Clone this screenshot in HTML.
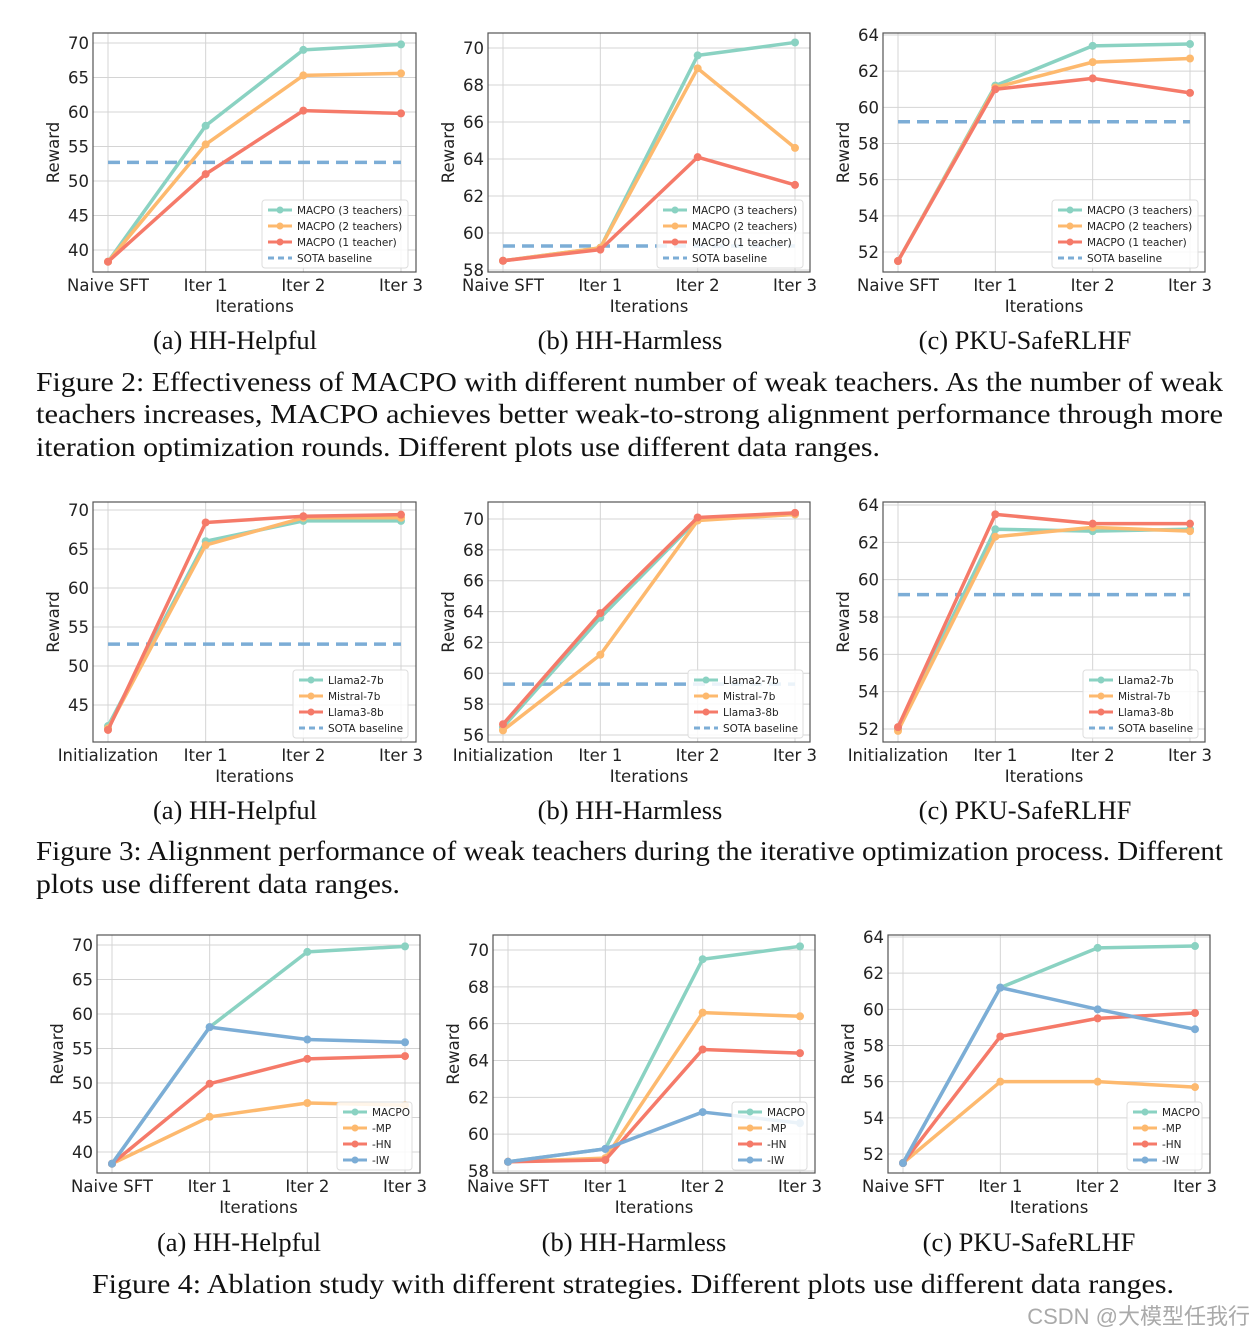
<!DOCTYPE html>
<html><head><meta charset="utf-8"><style>
html,body{margin:0;padding:0;background:#fff;}
svg{display:block;}
.tk{font-family:"DejaVu Sans",sans-serif;font-size:16.5px;fill:#222;}
.lg{font-family:"DejaVu Sans",sans-serif;font-size:10.5px;fill:#222;}
.cap{font-family:"Liberation Serif",serif;font-size:26.5px;fill:#111;}
.fc{font-family:"Liberation Serif",serif;font-size:27px;fill:#111;}
</style></head><body>
<svg id="root" width="1254" height="1338" viewBox="0 0 1254 1338" xmlns="http://www.w3.org/2000/svg">
<g id="charts"></g>
<g>
<text class="cap" x="235" y="349" text-anchor="middle">(a)  HH-Helpful</text>
<text class="cap" x="630" y="349" text-anchor="middle">(b)  HH-Harmless</text>
<text class="cap" x="1025" y="349" text-anchor="middle">(c)  PKU-SafeRLHF</text>
<text class="fc" x="36" y="391" textLength="1187" lengthAdjust="spacingAndGlyphs">Figure 2: Effectiveness of MACPO with different number of weak teachers. As the number of weak</text>
<text class="fc" x="36" y="423" textLength="1187" lengthAdjust="spacingAndGlyphs">teachers increases, MACPO achieves better weak-to-strong alignment performance through more</text>
<text class="fc" x="36" y="456" textLength="844" lengthAdjust="spacingAndGlyphs">iteration optimization rounds. Different plots use different data ranges.</text>
<text class="cap" x="235" y="819" text-anchor="middle">(a)  HH-Helpful</text>
<text class="cap" x="630" y="819" text-anchor="middle">(b)  HH-Harmless</text>
<text class="cap" x="1025" y="819" text-anchor="middle">(c)  PKU-SafeRLHF</text>
<text class="fc" x="36" y="860" textLength="1187" lengthAdjust="spacingAndGlyphs">Figure 3: Alignment performance of weak teachers during the iterative optimization process. Different</text>
<text class="fc" x="36" y="893" textLength="364" lengthAdjust="spacingAndGlyphs">plots use different data ranges.</text>
<text class="cap" x="239" y="1251" text-anchor="middle">(a)  HH-Helpful</text>
<text class="cap" x="634" y="1251" text-anchor="middle">(b)  HH-Harmless</text>
<text class="cap" x="1029" y="1251" text-anchor="middle">(c)  PKU-SafeRLHF</text>
<text class="fc" x="92" y="1293" textLength="1082" lengthAdjust="spacingAndGlyphs">Figure 4: Ablation study with different strategies. Different plots use different data ranges.</text>
<text x="1250" y="1324" text-anchor="end" style="font-family:'Liberation Sans','Noto Sans CJK SC',sans-serif;font-size:22px;fill:#aaa;">CSDN @大模型任我行</text>
</g>
</svg>
<script>
// ---- data ----
const catsA = ["Naive SFT","Iter 1","Iter 2","Iter 3"];
const catsB = ["Initialization","Iter 1","Iter 2","Iter 3"];
const names2 = ["MACPO (3 teachers)","MACPO (2 teachers)","MACPO (1 teacher)"];
const names3 = ["Llama2-7b","Mistral-7b","Llama3-8b"];
const names4 = ["MACPO","-MP","-HN","-IW"];
const f2a = [[38.3,58,69,69.8],[38.3,55.3,65.3,65.6],[38.3,51,60.2,59.8]];
const f2aSota = 52.7;
const f2b = [[58.5,59.2,69.6,70.3],[58.5,59.2,68.9,64.6],[58.5,59.1,64.1,62.6]];
const f2bSota = 59.3;
const f2c = [[51.5,61.2,63.4,63.5],[51.5,61.1,62.5,62.7],[51.5,61.0,61.6,60.8]];
const f2cSota = 59.2;
const f3a = [[42.3,66,68.6,68.6],[42.0,65.5,69,69],[41.8,68.4,69.2,69.4]];
const f3aSota = 52.8;
const f3b = [[56.5,63.6,70,70.3],[56.3,61.2,69.9,70.3],[56.7,63.9,70.1,70.4]];
const f3bSota = 59.3;
const f3c = [[52.0,62.7,62.6,62.7],[51.9,62.3,62.8,62.6],[52.1,63.5,63.0,63.0]];
const f3cSota = 59.2;
const f4a = [[38.3,58.1,69,69.8],[38.3,45.1,47.1,46.8],[38.3,49.9,53.5,53.9],[38.3,58.1,56.3,55.9]];
const f4b = [[58.5,59.2,69.5,70.2],[58.5,58.7,66.6,66.4],[58.5,58.6,64.6,64.4],[58.5,59.2,61.2,60.6]];
const f4c = [[51.5,61.2,63.4,63.5],[51.5,56,56,55.7],[51.5,58.5,59.5,59.8],[51.5,61.2,60,58.9]];
const ticksH = [40,45,50,55,60,65,70];
const ticksH3 = [45,50,55,60,65,70];
const ticksHarm = [58,60,62,64,66,68,70];
const ticksHarm3 = [56,58,60,62,64,66,68,70];
const ticksPKU = [52,54,56,58,60,62,64];

const COLORS = ["#8ad2c2","#fdb96e","#f57a69","#7cadd6"];
const NS = "http://www.w3.org/2000/svg";
const root = document.getElementById('charts');
function mk(tag, attrs, parent){const e=document.createElementNS(NS,tag);for(const k in attrs)e.setAttribute(k,attrs[k]);parent.appendChild(e);return e;}

function chart(id, fr, yMap, ticks, cats, series, names, sota, legend){
  const g = mk('g',{},root);
  
  
  const [x0,x1,y0,y1] = fr;
  const [vTop,pTop,vBot,pBot] = yMap;
  const Y = v => pBot + (v - vBot) * (pTop - pBot) / (vTop - vBot);
  const X = i => x0 + 15 + i * (x1 - x0 - 30) / (cats.length - 1);
  ticks.forEach(t=>{
    const l=mk('line',{x1:x0,x2:x1,y1:Y(t),y2:Y(t),stroke:'#d4d4d4','stroke-width':1},g);
    
    
    const tx=mk('text',{x:x0-4,y:Y(t)+6,'text-anchor':'end',class:'tk'},g);
    tx.textContent=t;
    
    
  });
  cats.forEach((c,i)=>{
    const l=mk('line',{x1:X(i),x2:X(i),y1:y0,y2:y1,stroke:'#d4d4d4','stroke-width':1},g);
    
    
    const tx=mk('text',{x:X(i),y:y1+19,'text-anchor':'middle',class:'tk'},g);
    tx.textContent=c;
    
    
  });
  const fr2=mk('rect',{x:x0,y:y0,width:x1-x0,height:y1-y0,fill:'none',stroke:'#555','stroke-width':1.2},g);
  
  
  const xl=mk('text',{x:(x0+x1)/2,y:y1+40,'text-anchor':'middle',class:'tk'},g);
  xl.textContent='Iterations';
  
  
  const yc=(y0+y1)/2, yx=x0-34;
  const yl=mk('text',{x:yx,y:yc,'text-anchor':'middle',class:'tk',transform:`rotate(-90 ${yx} ${yc})`},g);
  yl.textContent='Reward';
  
  
  if(sota!==null){
    const s=mk('line',{x1:X(0),x2:X(cats.length-1),y1:Y(sota),y2:Y(sota),stroke:COLORS[3],'stroke-width':3.5,'stroke-dasharray':'12,7'},g);
    
    
  }
  series.forEach((vals,si)=>{
    const pts=vals.map((v,i)=>X(i)+','+Y(v)).join(' ');
    const p=mk('polyline',{points:pts,fill:'none',stroke:COLORS[si],'stroke-width':3.5,'stroke-linejoin':'round'},g);
    
    
    vals.forEach((v,i)=>{
      const c=mk('circle',{cx:X(i),cy:Y(v),r:4,fill:COLORS[si]},g);
      
      
    });
  });
  const [lx,ly,lw,n] = legend;
  const lgG = mk('g',{},g);
  
  
  mk('rect',{x:lx,y:ly,width:lw,height:n*16+4,rx:3,fill:'#fff','fill-opacity':0.85,stroke:'#ddd'},lgG);
  const labels = names.slice();
  if(sota!==null) labels.push('SOTA baseline');
  labels.forEach((lab,i)=>{
    const cy=ly+10+i*16;
    const isS = sota!==null && i===labels.length-1;
    const col = isS?COLORS[3]:COLORS[i];
    mk('line',{x1:lx+6,x2:lx+30,y1:cy,y2:cy,stroke:col,'stroke-width':3,'stroke-dasharray':isS?'6,4':'none'},lgG);
    if(!isS) mk('circle',{cx:lx+18,cy:cy,r:3.5,fill:col},lgG);
    const t=mk('text',{x:lx+35,y:cy+4,class:'lg'},lgG);
    t.textContent=lab;
    
    
  });
}

chart('chart-2a-hh-helpful',[93,416,33,272],[70,43,40,250],ticksH,catsA,f2a,names2,f2aSota,[262,200,146,4]);
chart('chart-2b-hh-harmless',[488,810,33,272],[70,48,58,270],ticksHarm,catsA,f2b,names2,f2bSota,[657,200,146,4]);
chart('chart-2c-pku-saferlhf',[883,1205,33,272],[64,35,52,252],ticksPKU,catsA,f2c,names2,f2cSota,[1052,200,146,4]);
chart('chart-3a-hh-helpful',[93,416,502,742],[70,510,45,705],ticksH3,catsB,f3a,names3,f3aSota,[293,670,115,4]);
chart('chart-3b-hh-harmless',[488,810,502,742],[70,519,56,735],ticksHarm3,catsB,f3b,names3,f3bSota,[688,670,115,4]);
chart('chart-3c-pku-saferlhf',[883,1205,502,742],[64,505,52,729],ticksPKU,catsB,f3c,names3,f3cSota,[1083,670,115,4]);
chart('chart-4a-hh-helpful',[97,420,935,1173],[70,945,40,1152],ticksH,catsA,f4a,names4,null,[337,1102,75,4]);
chart('chart-4b-hh-harmless',[493,815,935,1173],[70,950,58,1171],ticksHarm,catsA,f4b,names4,null,[732,1102,75,4]);
chart('chart-4c-pku-saferlhf',[888,1210,935,1173],[64,937,52,1154],ticksPKU,catsA,f4c,names4,null,[1127,1102,75,4]);
</script>
</body></html>
